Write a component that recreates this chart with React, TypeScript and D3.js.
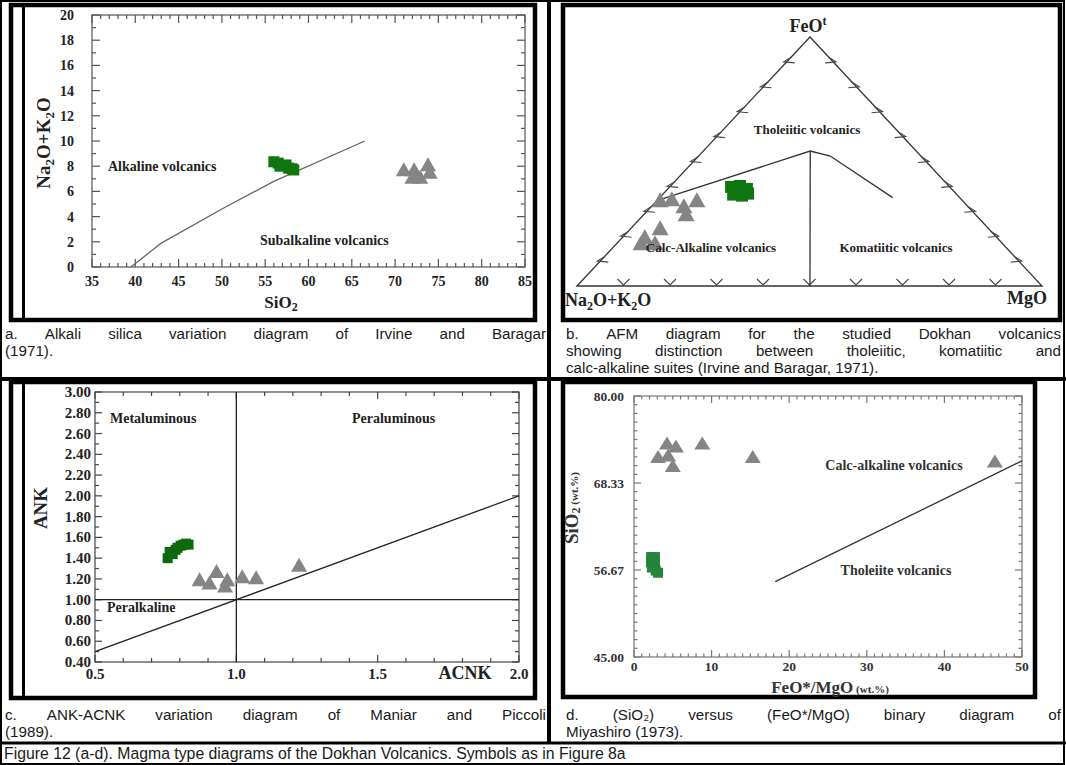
import React from 'react';
import * as d3 from 'd3';

const SERIF = "'Liberation Serif','Times New Roman',serif";
const SANS = "'Liberation Sans',Arial,sans-serif";

// ---------- a. Alkali–silica (TAS) ----------
const tasXLabels = [35, 40, 45, 50, 55, 60, 65, 70, 75, 80, 85];
const tasYLabels = [0, 2, 4, 6, 8, 10, 12, 14, 16, 18, 20];
const tasLineSiO2 = [39.5, 43, 50, 56, 66.5];
const tasLineAlk = [0, 1.9, 4.6, 6.8, 10];
const tasGreenSiO2 = [56.0, 56.5, 56.7, 57.4, 57.7, 58.1, 58.3];
const tasGreenAlk = [8.35, 8.25, 8.0, 8.1, 7.85, 7.8, 7.7];
const tasGreySiO2 = [71.0, 72.2, 73.8, 74.0, 72.0, 72.9];
const tasGreyAlk = [7.7, 7.7, 8.1, 7.5, 7.1, 7.1];

// ---------- b. AFM ternary (fractions A = Na2O+K2O, F = FeOt, M = MgO) ----------
const afmGreenA = [0.470, 0.449, 0.440, 0.481, 0.464, 0.447];
const afmGreenF = [0.398, 0.402, 0.390, 0.367, 0.363, 0.371];
const afmGreenM = [0.132, 0.149, 0.170, 0.152, 0.173, 0.182];
const afmGreyA = [0.650, 0.623, 0.611, 0.571, 0.622, 0.706, 0.757, 0.777, 0.747];
const afmGreyF = [0.343, 0.347, 0.319, 0.343, 0.287, 0.231, 0.195, 0.171, 0.171];
const afmGreyM = [0.007, 0.030, 0.070, 0.086, 0.091, 0.063, 0.048, 0.052, 0.082];
const afmCurveA = [0.657, 0.228, 0.195, 0.144];
const afmCurveF = [0.343, 0.542, 0.522, 0.355];
const afmCurveM = [0.0, 0.230, 0.283, 0.501];
const afmDividerA = [0.228, 0.499];
const afmDividerF = [0.542, 0.0];
const afmDividerM = [0.230, 0.501];

// ---------- c. ANK–ACNK ----------
const ankXLabels = [0.5, 1.0, 1.5, 2.0];
const ankYLabels = [0.4, 0.6, 0.8, 1.0, 1.2, 1.4, 1.6, 1.8, 2.0, 2.2, 2.4, 2.6, 2.8, 3.0];
const ankGreenACNK = [0.757, 0.764, 0.775, 0.785, 0.792, 0.803, 0.813, 0.822, 0.831];
const ankGreenANK = [1.40, 1.46, 1.44, 1.48, 1.50, 1.52, 1.53, 1.54, 1.53];
const ankGreyACNK = [0.870, 0.905, 0.930, 0.968, 0.960, 1.021, 1.070, 1.222];
const ankGreyANK = [1.19, 1.16, 1.27, 1.19, 1.13, 1.22, 1.21, 1.33];

// ---------- d. SiO2 vs FeO*/MgO ----------
const miyXLabels = [0, 10, 20, 30, 40, 50];
const miyYLabels = [45.0, 56.67, 68.33, 80.0];
const miyLineRatio = [18.2, 50];
const miyLineSiO2 = [55.1, 71.3];
const miyGreenRatio = [2.2, 2.7, 2.2, 2.7, 2.3, 2.8, 3.1];
const miyGreenSiO2 = [58.4, 58.4, 57.7, 57.7, 57.0, 56.6, 56.3];
const miyGreyRatio = [4.25, 5.4, 8.8, 3.1, 4.4, 5.0, 15.3, 46.5];
const miyGreySiO2 = [73.6, 73.2, 73.6, 71.8, 72.0, 70.6, 71.8, 71.2];

// ---------- captions ----------
const captionA = ['a. Alkali silica variation diagram of Irvine and Baragar', '(1971).'];
const captionB = [
  'b. AFM diagram for the studied Dokhan volcanics',
  'showing distinction between tholeiitic, komatiitic and',
  'calc-alkaline suites (Irvine and Baragar, 1971).',
];
const captionC = ['c. ANK-ACNK variation diagram of Maniar and Piccoli', '(1989).'];
const captionD = ['d. (SiO\u2082) versus (FeO*/MgO) binary diagram of', 'Miyashiro (1973).'];
const figureCaption = 'Figure 12 (a-d). Magma type diagrams of the Dokhan Volcanics. Symbols as in Figure 8a';

const CAP_SIZE = 15.2;

let measureCtx: CanvasRenderingContext2D | null = null;
function textWidth(s: string, font: string) {
  if (!measureCtx) measureCtx = document.createElement('canvas').getContext('2d');
  measureCtx!.font = font;
  return measureCtx!.measureText(s).width;
}

function CaptionBlock({ lines, x0, x1, y0, lh }: { lines: string[]; x0: number; x1: number; y0: number; lh: number }) {
  const font = `${CAP_SIZE}px 'Liberation Sans'`;
  return (
    <g fontFamily={SANS} fontSize={CAP_SIZE} fill="#1a1a1a">
      {lines.map((ln, li) => {
        const y = y0 + li * lh;
        const last = li === lines.length - 1;
        if (last) return <text key={li} x={x0} y={y}>{ln}</text>;
        const words = ln.split(' ');
        const ws = words.map((w) => textWidth(w, font));
        const gap = (x1 - x0 - d3.sum(ws)) / (words.length - 1);
        let cx = x0;
        return (
          <text key={li} y={y}>
            {words.map((w, i) => {
              const el = <tspan key={i} x={cx}>{w}</tspan>;
              cx += ws[i] + gap;
              return el;
            })}
          </text>
        );
      })}
    </g>
  );
}

type Lin = d3.ScaleLinear<number, number>;
function BoxTicks({ xs, ys, xVals, xMaj, yVals, yMaj, majLen, minLen, stroke }: {
  xs: Lin; ys: Lin; xVals: number[]; xMaj: (i: number) => boolean; yVals: number[]; yMaj: (i: number) => boolean;
  majLen: number; minLen: number; stroke: string;
}) {
  const [x0, x1] = xs.range();
  const [y0, y1] = ys.range();
  const out: JSX.Element[] = [];
  xVals.forEach((v, i) => {
    const L = xMaj(i) ? majLen : minLen;
    const px = xs(v);
    out.push(<line key={`b${i}`} x1={px} x2={px} y1={y0} y2={y0 - L} />);
    out.push(<line key={`t${i}`} x1={px} x2={px} y1={y1} y2={y1 + L} />);
  });
  yVals.forEach((v, i) => {
    const L = yMaj(i) ? majLen : minLen;
    const py = ys(v);
    out.push(<line key={`l${i}`} x1={x0} x2={x0 + L} y1={py} y2={py} />);
    out.push(<line key={`r${i}`} x1={x1} x2={x1 - L} y1={py} y2={py} />);
  });
  return (
    <g stroke={stroke} strokeWidth={1.2}>
      {out}
      <rect x={x0} y={y1} width={x1 - x0} height={y0 - y1} fill="none" />
    </g>
  );
}

const sq = (cx: number, cy: number, s: number, fill: string, k: string) => (
  <rect key={k} x={cx - s / 2} y={cy - s / 2} width={s} height={s} fill={fill} />
);
const tri = (cx: number, cy: number, w: number, h: number, fill: string, k: string) => (
  <path key={k} d={`M${cx},${cy - h * 0.55}L${cx + w / 2},${cy + h * 0.45}L${cx - w / 2},${cy + h * 0.45}Z`} fill={fill} />
);

const GREEN = '#0f760f';
const GREY = '#858585';

function PanelA() {
  const xs = d3.scaleLinear().domain([35, 85]).range([92, 525]);
  const ys = d3.scaleLinear().domain([0, 20]).range([267, 15]);
  const line = d3.line<[number, number]>().x((d) => xs(d[0])).y((d) => ys(d[1]));
  return (
    <g>
      <BoxTicks xs={xs} ys={ys} xVals={d3.range(35, 86)} xMaj={(i) => i % 5 === 0}
        yVals={d3.range(0, 21)} yMaj={(i) => i % 2 === 0} majLen={8} minLen={4} stroke="#555" />
      <path d={line(d3.zip(tasLineSiO2, tasLineAlk) as [number, number][]) || ''} fill="none" stroke="#666" strokeWidth={1.3} />
      <g fontFamily={SERIF} fontWeight="bold" fontSize={14} fill="#222">
        {tasXLabels.map((v) => <text key={v} x={xs(v)} y={286} textAnchor="middle">{v}</text>)}
        {tasYLabels.map((v) => <text key={v} x={74} y={ys(v) + 5} textAnchor="end">{v}</text>)}
        <text x={108} y={ys(8) + 5}>Alkaline volcanics</text>
        <text x={260} y={245}>Subalkaline volcanics</text>
        <text x={281} y={308} textAnchor="middle" fontSize={17}>SiO<tspan fontSize={12} dy={3}>2</tspan></text>
        <text transform="translate(50,143) rotate(-90)" textAnchor="middle" fontSize={19}>
          Na<tspan fontSize={13} dy={4}>2</tspan><tspan dy={-4}>O+K</tspan><tspan fontSize={13} dy={4}>2</tspan><tspan dy={-4}>O</tspan>
        </text>
      </g>
      {tasGreenSiO2.map((v, i) => sq(xs(v), ys(tasGreenAlk[i]), 11, GREEN, `g${i}`))}
      {tasGreySiO2.map((v, i) => tri(xs(v), ys(tasGreyAlk[i]), 16, 14, GREY, `t${i}`))}
    </g>
  );
}

function PanelB() {
  const L = { x: 577, y: 286 }, T = { x: 810, y: 37 }, R = { x: 1042, y: 286 };
  const tern = (a: number, f: number, m: number): [number, number] => {
    const s = a + f + m;
    return [(L.x * a + T.x * f + R.x * m) / s, (L.y * a + T.y * f + R.y * m) / s];
  };
  const curve = d3.line()(afmCurveA.map((a, i) => tern(a, afmCurveF[i], afmCurveM[i]))) || '';
  const divider = d3.line()(afmDividerA.map((a, i) => tern(a, afmDividerF[i], afmDividerM[i]))) || '';
  const ticks: JSX.Element[] = [];
  d3.range(1, 10).forEach((k) => {
    const t = k / 10;
    const b = tern(1 - t, 0, t);
    ticks.push(<path key={`b${k}`} d={`M${b[0] - 6},${b[1] - 7}L${b[0]},${b[1] - 1}L${b[0] + 6},${b[1] - 7}`} />);
    const l = tern(1 - t, t, 0);
    ticks.push(<path key={`l${k}`} d={`M${l[0] + 5},${l[1] - 5}L${l[0] - 3},${l[1]}L${l[0] + 8},${l[1] + 1}`} />);
    const r = tern(0, t, 1 - t);
    ticks.push(<path key={`r${k}`} d={`M${r[0] - 5},${r[1] - 5}L${r[0] + 3},${r[1]}L${r[0] - 8},${r[1] + 1}`} />);
  });
  return (
    <g>
      <path d={`M${L.x},${L.y}L${T.x},${T.y}L${R.x},${R.y}Z`} fill="none" stroke="#333" strokeWidth={1.3} />
      <g fill="none" stroke="#444" strokeWidth={1.1}>{ticks}</g>
      <path d={curve} fill="none" stroke="#333" strokeWidth={1.3} />
      <path d={divider} fill="none" stroke="#333" strokeWidth={1.3} />
      {afmGreyA.map((a, i) => { const [x, y] = tern(a, afmGreyF[i], afmGreyM[i]); return tri(x, y, 17, 15, GREY, `t${i}`); })}
      {afmGreenA.map((a, i) => { const [x, y] = tern(a, afmGreenF[i], afmGreenM[i]); return sq(x, y, 12, GREEN, `g${i}`); })}
      <g fontFamily={SERIF} fontWeight="bold" fill="#222">
        <text x={808} y={32} textAnchor="middle" fontSize={18}>FeO<tspan fontSize={12} dy={-7}>t</tspan></text>
        <text x={565} y={306} fontSize={18}>Na<tspan fontSize={12} dy={4}>2</tspan><tspan dy={-4}>O+K</tspan><tspan fontSize={12} dy={4}>2</tspan><tspan dy={-4}>O</tspan></text>
        <text x={1047} y={304} textAnchor="end" fontSize={18}>MgO</text>
        <text x={807} y={134} textAnchor="middle" fontSize={13}>Tholeiitic volcanics</text>
        <text x={711} y={252} textAnchor="middle" fontSize={13}>Calc-Alkaline volcanics</text>
        <text x={896} y={252} textAnchor="middle" fontSize={13}>Komatiitic volcanics</text>
      </g>
    </g>
  );
}

function PanelC() {
  const xs = d3.scaleLinear().domain([0.5, 2.0]).range([95, 519]);
  const ys = d3.scaleLinear().domain([0.4, 3.0]).range([662, 392]);
  return (
    <g>
      <BoxTicks xs={xs} ys={ys} xVals={d3.range(5, 21).map((v) => v / 10)} xMaj={(i) => i % 5 === 0}
        yVals={d3.range(4, 31).map((v) => v / 10)} yMaj={(i) => i % 2 === 0} majLen={7} minLen={4} stroke="#444" />
      <g stroke="#222" strokeWidth={1.3}>
        <line x1={xs(1)} x2={xs(1)} y1={ys(0.4)} y2={ys(3)} />
        <line x1={xs(0.5)} x2={xs(2)} y1={ys(1)} y2={ys(1)} />
        <line x1={xs(0.5)} x2={xs(2)} y1={ys(0.5)} y2={ys(2)} />
      </g>
      {ankGreyACNK.map((v, i) => tri(xs(v), ys(ankGreyANK[i]), 16, 14, GREY, `t${i}`))}
      {ankGreenACNK.map((v, i) => sq(xs(v), ys(ankGreenANK[i]), 10, '#0c6a0c', `g${i}`))}
      <g fontFamily={SERIF} fontWeight="bold" fill="#222">
        {ankYLabels.map((v) => <text key={v} x={91} y={ys(v) + 5} textAnchor="end" fontSize={15}>{v.toFixed(2)}</text>)}
        {ankXLabels.map((v) => <text key={v} x={xs(v)} y={679} textAnchor="middle" fontSize={15}>{v.toFixed(1)}</text>)}
        <text x={465} y={679} textAnchor="middle" fontSize={18}>ACNK</text>
        <text transform="translate(47,508) rotate(-90)" textAnchor="middle" fontSize={19}>ANK</text>
        <text x={110} y={423} fontSize={14}>Metaluminous</text>
        <text x={352} y={423} fontSize={14}>Peraluminous</text>
        <text x={107} y={612} fontSize={14}>Peralkaline</text>
      </g>
    </g>
  );
}

function PanelD() {
  const xs = d3.scaleLinear().domain([0, 50]).range([634, 1022]);
  const ys = d3.scaleLinear().domain([45, 80]).range([657, 396]);
  const line = d3.line<[number, number]>().x((d) => xs(d[0])).y((d) => ys(d[1]));
  return (
    <g>
      <BoxTicks xs={xs} ys={ys} xVals={d3.range(0, 51)} xMaj={(i) => i % 10 === 0}
        yVals={d3.range(0, 31).map((k) => 45 + (35 * k) / 30)} yMaj={(i) => i % 10 === 0} majLen={7} minLen={3.5} stroke="#777" />
      <path d={line(d3.zip(miyLineRatio, miyLineSiO2) as [number, number][]) || ''} fill="none" stroke="#333" strokeWidth={1.3} />
      {miyGreyRatio.map((v, i) => tri(xs(v), ys(miyGreySiO2[i]), 16, 13, GREY, `t${i}`))}
      {miyGreenRatio.map((v, i) => sq(xs(v), ys(miyGreenSiO2[i]), 10, '#25853a', `g${i}`))}
      <g fontFamily={SERIF} fontWeight="bold" fill="#333">
        {miyYLabels.map((v) => <text key={v} x={624} y={ys(v) + 5} textAnchor="end" fontSize={13.5}>{v.toFixed(2)}</text>)}
        {miyXLabels.map((v) => <text key={v} x={xs(v)} y={671} textAnchor="middle" fontSize={13.5}>{v}</text>)}
        <text x={830} y={693} textAnchor="middle" fontSize={17}>FeO*/MgO<tspan fontSize={11}> (wt.%)</tspan></text>
        <text transform="translate(578,508) rotate(-90)" textAnchor="middle" fontSize={19}>SiO<tspan fontSize={12} dy={2}>2</tspan><tspan fontSize={11} dy={-2}> (wt.%)</tspan></text>
        <text x={894} y={470} textAnchor="middle" fontSize={14}>Calc-alkaline volcanics</text>
        <text x={896} y={575} textAnchor="middle" fontSize={14}>Tholeiite volcanics</text>
      </g>
    </g>
  );
}

export default function App() {
  return (
    <div style={{ position: 'absolute', left: 0, top: 0 }}>
      <svg width={1066} height={765} viewBox="0 0 1066 765" style={{ display: 'block', background: '#fff' }}>
        <g stroke="#000" fill="none">
          <rect x={1} y={1} width={1063} height={763} strokeWidth={2} />
          <line x1={549} x2={549} y1={0} y2={743} strokeWidth={4} />
          <line x1={0} x2={1066} y1={379} y2={379} strokeWidth={4} />
          <line x1={0} x2={1066} y1={743} y2={743} strokeWidth={3} />
          <rect x={11} y={5} width={524} height={315} strokeWidth={4.5} />
          <line x1={23.5} x2={23.5} y1={5} y2={320} strokeWidth={3} />
          <rect x={563} y={5} width={497} height={315} strokeWidth={4.5} />
          <rect x={11} y={382} width={524} height={316} strokeWidth={4.5} />
          <line x1={23.5} x2={23.5} y1={382} y2={698} strokeWidth={3} />
          <rect x={563} y={382} width={472} height={315} strokeWidth={4.5} />
        </g>
        <PanelA />
        <PanelB />
        <PanelC />
        <PanelD />
        <CaptionBlock lines={captionA} x0={5} x1={546} y0={339} lh={17} />
        <CaptionBlock lines={captionB} x0={566} x1={1061} y0={339} lh={17} />
        <CaptionBlock lines={captionC} x0={5} x1={546} y0={720} lh={17} />
        <CaptionBlock lines={captionD} x0={566} x1={1061} y0={720} lh={17} />
        <text x={4} y={759} fontFamily={SANS} fontSize={15.8} fill="#1a1a1a">{figureCaption}</text>
      </svg>
    </div>
  );
}
